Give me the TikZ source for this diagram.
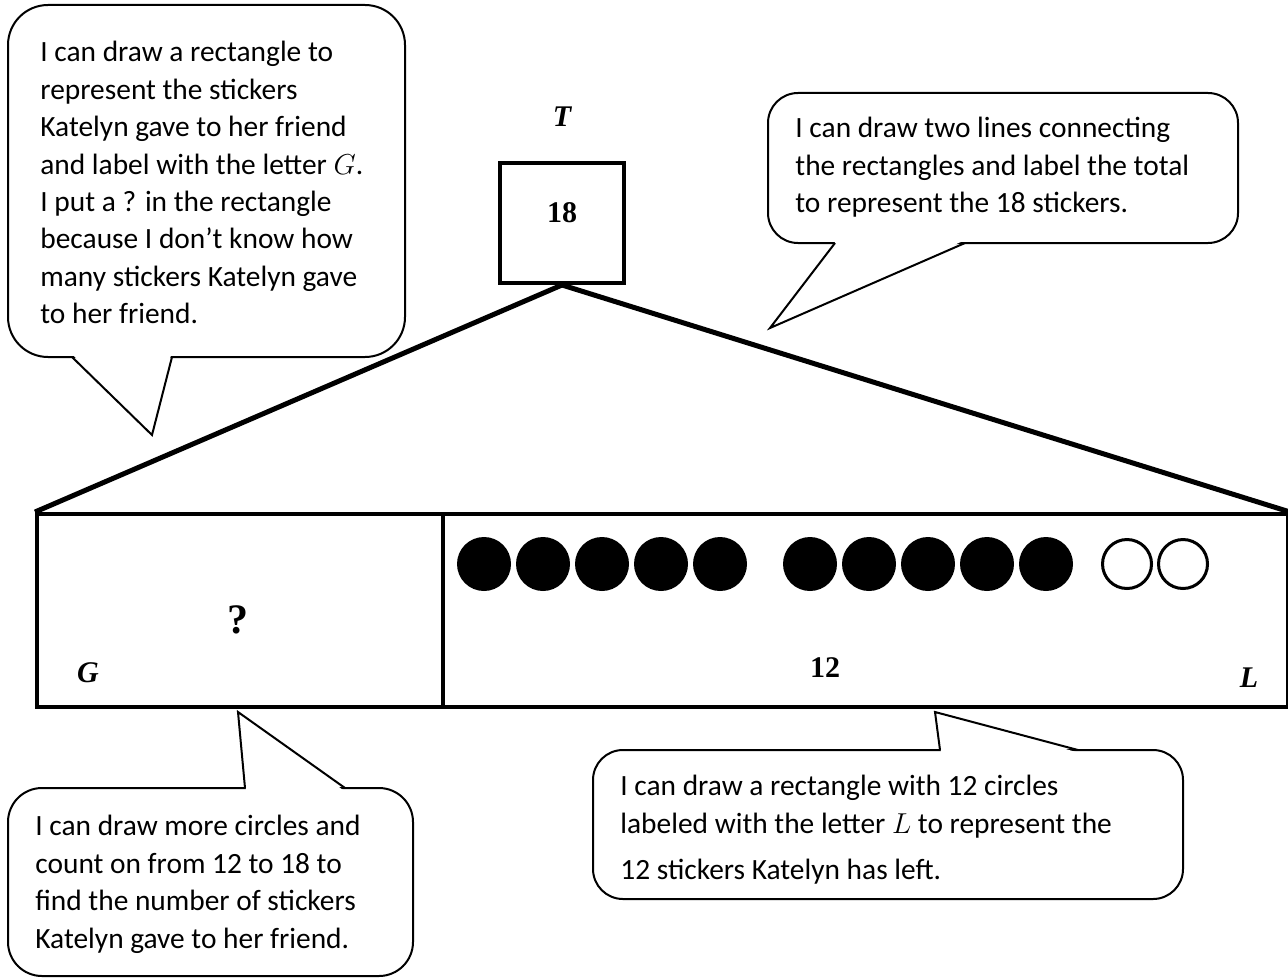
\documentclass[tikz,border=0pt]{standalone}
\usepackage{fontspec}
\setmainfont{Carlito}
\newfontfamily\numfont{Liberation Serif}
\usetikzlibrary{positioning}

\begin{document}
\begin{tikzpicture}[x=0.5pt, y=-0.5pt,
    bubble/.style={draw, line width=1pt, fill=white},
    gap/.style={fill=white},
    saytext/.style={anchor=north west, inner sep=0pt, align=left, font=\fontsize{14.7}{18.7}\selectfont},
    part/.style={draw, line width=2pt, inner sep=0pt, anchor=north west, minimum height=96.5pt},
    numlabel/.style={font=\numfont\bfseries\fontsize{15}{18}\selectfont},
    letlabel/.style={font=\numfont\bfseries\itshape\fontsize{15}{18}\selectfont},
    dot/.style={circle, fill=black, minimum size=27pt, inner sep=0pt},
    opendot/.style={circle, draw, line width=1.5pt, minimum size=24.5pt, inner sep=0pt}]
  \useasboundingbox (0,0) rectangle (1288,979);

  % callouts: box, gap in the border, then the tail
  \draw[bubble, rounded corners=20pt] (8,5) rectangle (405,357);
  \fill[gap] (73,355) -- (152,435) -- (171,355) -- cycle;
  \draw[line width=1pt] (72,357) -- (152,435) -- (172,357);

  \draw[bubble, rounded corners=15pt] (768,93) rectangle (1238,243);
  \fill[gap] (836,241) -- (770,328) -- (963,241) -- cycle;
  \draw[line width=1pt] (835,243) -- (770,328) -- (965,243);

  \draw[bubble, rounded corners=17pt] (8,788) rectangle (413,976);
  \fill[gap] (246,790) -- (238,712) -- (343,790) -- cycle;
  \draw[line width=1pt] (245,788) -- (238,712) -- (345,788);

  \draw[bubble, rounded corners=15pt] (593,750) rectangle (1183,899);
  \fill[gap] (941,752) -- (935,712) -- (1076,752) -- cycle;
  \draw[line width=1pt] (940,750) -- (935,712) -- (1078,750);

  \node[saytext] (sayG) at (40,41) {I can draw a rectangle to\\ represent the stickers\\ Katelyn gave to her friend\\
    and label with the letter $G$.\\ I put a ? in the rectangle\\ because I don’t know how\\
    many stickers Katelyn gave\\ to her friend.};
  \node[saytext] (sayT) at (795,117) {I can draw two lines connecting\\ the rectangles and label the total\\
    to represent the 18 stickers.};
  \node[saytext] (sayC) at (35,815) {I can draw more circles and\\ count on from 12 to 18 to\\
    find the number of stickers\\ Katelyn gave to her friend.};
  \node[saytext] (sayL) at (620,775) {I can draw a rectangle with 12 circles\\
    labeled with the letter $L$ to represent the\\[4.5pt] 12 stickers Katelyn has left.};

  % tape diagram
  \node[draw, line width=2pt, minimum width=62pt, minimum height=60pt] (tot) at (562,223) {};
  \node[numlabel] (totnum) at (562,213) {18};
  \node[letlabel] (totlet) at (562,117) {T};
  \node[part, minimum width=203pt] (gpart) at (35,512) {};
  \node[part, minimum width=422.5pt] (lpart) at (441,512) {};
  \draw[line width=2.5pt] (tot.south) -- (gpart.north west);
  \draw[line width=2.5pt] (tot.south) -- (lpart.north east);

  \node[numlabel, font=\numfont\bfseries\fontsize{21}{24}\selectfont] (gnum) at (238,620) {?};
  \node[letlabel] (glet) at (88,673) {G};
  \node[numlabel] (lnum) at (825,668) {12};
  \node[letlabel] (llet) at (1249,678) {L};

  \foreach \x [count=\i] in {484, 543, 602, 661, 720, 810, 869, 928, 987, 1046} {
    \node[dot] (c\i) at (\x,564) {};
  }
  \foreach \x [count=\i from 11] in {1127, 1183} {
    \node[opendot] (c\i) at (\x,564) {};
  }
\end{tikzpicture}
\end{document}
